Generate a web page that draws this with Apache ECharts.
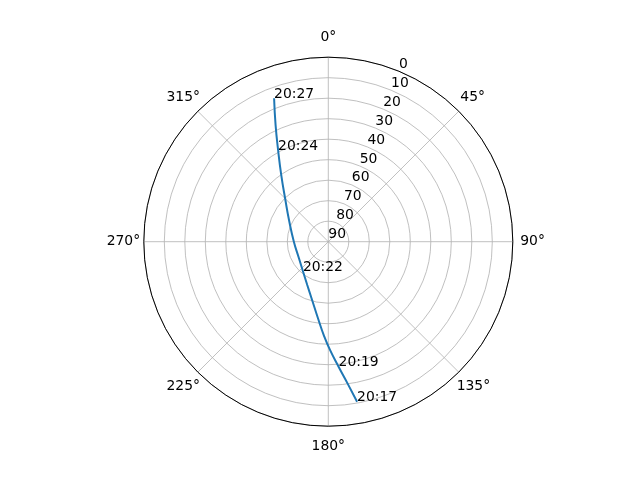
<!DOCTYPE html>
<html>
<head>
<meta charset="utf-8">
<script src="https://cdn.jsdelivr.net/npm/echarts@6/dist/echarts.min.js"></script>
<style>
html,body{margin:0;padding:0;background:#fff;}
#chart{width:640px;height:480px;}
</style>
</head>
<body>
<div id="chart"></div>
<script>
// Satellite pass: azimuth (deg, clockwise from North) and elevation (deg)
const azimuth   = [169.8, 172.2, 175.3, 179.1, 182.8, 187.1, 196.5, 205.9, 221.0, 241.1, 270.0, 298.9, 314.2, 324.8, 331.3, 335.7, 339.3];
const elevation = [10.7, 20.0, 28.8, 37.2, 44.4, 51.5, 61.2, 66.5, 71.1, 73.6, 73.2, 68.1, 60.8, 50.2, 39.0, 27.5, 15.2];
const timeLabels = ['20:17', '', '20:19', '', '', '', '', '', '20:22', '', '', '', '', '', '20:24', '', '20:27'];
const angleTicks = [0, 45, 90, 135, 180, 225, 270, 315];
const radiusTicks = [0, 10, 20, 30, 40, 50, 60, 70, 80, 90];

const FONT = 'DejaVu Sans';
const FS = 13.9;
const CENTER = [328.3, 241.7];
const R = 184.5;

const trackData = elevation.map((e, i) => [e, azimuth[i]]);
const labelData = [];
timeLabels.forEach((t, i) => { if (t) labelData.push({ value: [elevation[i], azimuth[i]], name: t }); });

// per-direction padding so compass labels sit centred on a ring like matplotlib
const base = { color: '#000', fontFamily: FONT, fontSize: FS };
const richStyles = {
  a0:   Object.assign({ padding: [0, 0, 16, 0] }, base),
  a45:  Object.assign({ padding: [0, 0, 9, 3.7] }, base),
  a90:  Object.assign({ padding: [0, 0, 0, 10.4] }, base),
  a135: Object.assign({ padding: [9, 0, 0, 0] }, base),
  a180: Object.assign({ padding: [16, 0, 0, 0] }, base),
  a225: Object.assign({ padding: [9, 0, 0, 0] }, base),
  a270: Object.assign({ padding: [0, 6.7, 0, 0] }, base),
  a315: Object.assign({ padding: [0, 0, 9, 0] }, base)
};

const chart = echarts.init(document.getElementById('chart'), null, { renderer: 'canvas' });
chart.setOption({
  animation: false,
  backgroundColor: '#fff',
  polar: [
    { center: CENTER, radius: R },
    { center: CENTER, radius: R }
  ],
  angleAxis: [
    {
      polarIndex: 0, type: 'value', min: 0, max: 360, interval: 45,
      startAngle: 90, clockwise: true,
      axisLine: { show: true, lineStyle: { color: '#000', width: 1 } },
      axisTick: { show: false },
      splitLine: { show: true, lineStyle: { color: '#b0b0b0', width: 0.8 } },
      axisLabel: {
        color: '#000', fontFamily: FONT, fontSize: FS, margin: -3,
        formatter: v => {
          if (angleTicks.indexOf(v) < 0 || v === 360) return '';
          return '{a' + v + '|' + v + '°}';
        },
        rich: richStyles
      },
      z: 3
    },
    {
      polarIndex: 1, type: 'value', min: 0, max: 360, show: false,
      startAngle: 67.5, clockwise: true
    }
  ],
  radiusAxis: [
    {
      polarIndex: 0, type: 'value', min: radiusTicks[0], max: radiusTicks[radiusTicks.length - 1],
      interval: 10, inverse: true,
      axisLine: { show: false }, axisTick: { show: false }, axisLabel: { show: false },
      splitLine: { show: true, lineStyle: { color: '#b0b0b0', width: 0.8 } },
      z: 1
    },
    {
      polarIndex: 1, type: 'value', min: radiusTicks[0], max: radiusTicks[radiusTicks.length - 1],
      interval: 10, inverse: true,
      axisLine: { show: false }, axisTick: { show: false }, splitLine: { show: false },
      axisLabel: {
        show: true, color: '#000', fontFamily: FONT, fontSize: FS, margin: 0,
        align: 'left', verticalAlign: 'bottom',
        formatter: v => radiusTicks.indexOf(v) >= 0 ? String(v) : ''
      },
      z: 4
    }
  ],
  series: [
    {
      type: 'line', coordinateSystem: 'polar', polarIndex: 0,
      data: trackData, showSymbol: false, smooth: true,
      lineStyle: { color: '#1f77b4', width: 2 },
      z: 5
    },
    {
      type: 'scatter', coordinateSystem: 'polar', polarIndex: 0,
      data: labelData, symbolSize: 0,
      itemStyle: { color: '#1f77b4', opacity: 1 },
      label: {
        show: true, position: 'right', distance: 0, verticalAlign: 'bottom',
        offset: [0, 3], color: '#000', opacity: 1, fontFamily: FONT, fontSize: FS,
        formatter: p => p.name
      },
      emphasis: { disabled: true },
      z: 6
    }
  ]
});
</script>
</body>
</html>
